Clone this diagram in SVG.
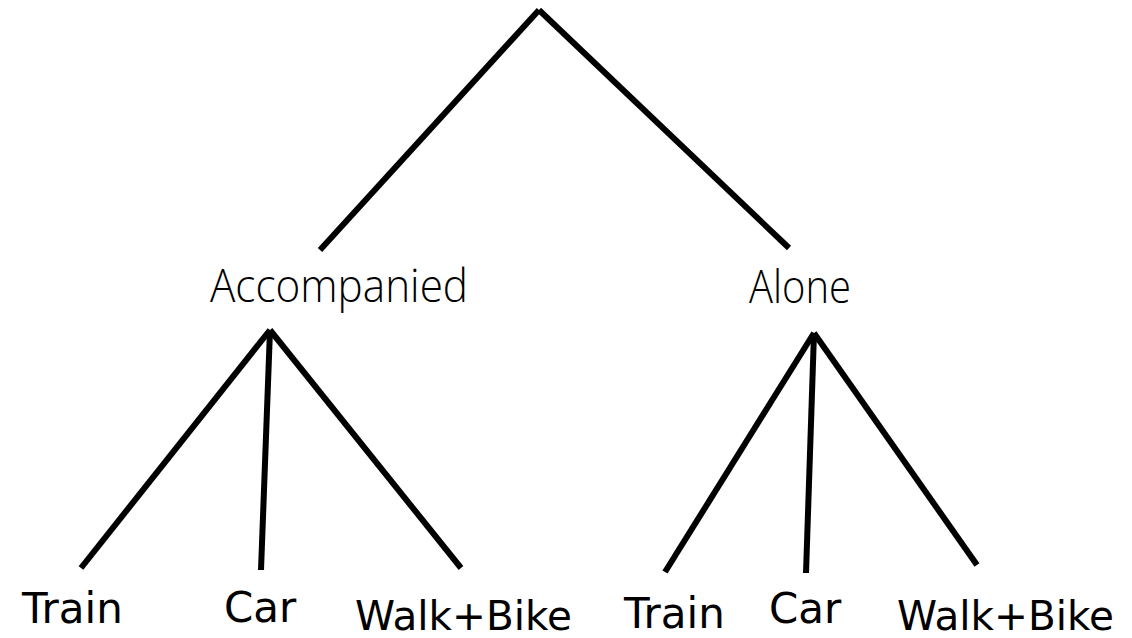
<svg xmlns="http://www.w3.org/2000/svg" width="1132" height="638" viewBox="0 0 1132 638">
  <style>
    .edge { stroke: #000; stroke-width: 6; fill: none; stroke-linecap: butt; }
    .mid { font-family: "Open Sans", "Noto Sans", sans-serif; font-weight: 300; font-size: 46px; fill: #000; }
    .leaf { font-family: "DejaVu Sans", "Liberation Sans", sans-serif; font-size: 42px; fill: #000; }
    .wide { font-size: 40.5px; }
  </style>
  <rect width="1132" height="638" fill="#fff"/>
  <g id="connectors">
    <line class="edge" x1="539" y1="10" x2="320" y2="250"/>
    <line class="edge" x1="539" y1="10" x2="789" y2="248"/>
    <line class="edge" x1="270" y1="330" x2="81" y2="568"/>
    <line class="edge" x1="270" y1="330" x2="261" y2="570"/>
    <line class="edge" x1="270" y1="330" x2="461" y2="568"/>
    <line class="edge" x1="814" y1="333" x2="665" y2="572"/>
    <line class="edge" x1="814" y1="333" x2="806" y2="573"/>
    <line class="edge" x1="814" y1="333" x2="977" y2="565"/>
  </g>
  <g id="node-accompanied"><text class="mid" x="210" y="302" textLength="258" lengthAdjust="spacingAndGlyphs">Accompanied</text></g>
  <g id="node-alone"><text class="mid" x="749" y="303" textLength="102" lengthAdjust="spacingAndGlyphs">Alone</text></g>
  <g id="node-acc-train"><text class="leaf" x="22" y="623">Train</text></g>
  <g id="node-acc-car"><text class="leaf" x="224" y="622">Car</text></g>
  <g id="node-acc-walkbike"><text class="leaf wide" x="355" y="630">Walk+Bike</text></g>
  <g id="node-alone-train"><text class="leaf" x="624" y="628">Train</text></g>
  <g id="node-alone-car"><text class="leaf" x="769" y="623">Car</text></g>
  <g id="node-alone-walkbike"><text class="leaf wide" x="897" y="630">Walk+Bike</text></g>
</svg>
